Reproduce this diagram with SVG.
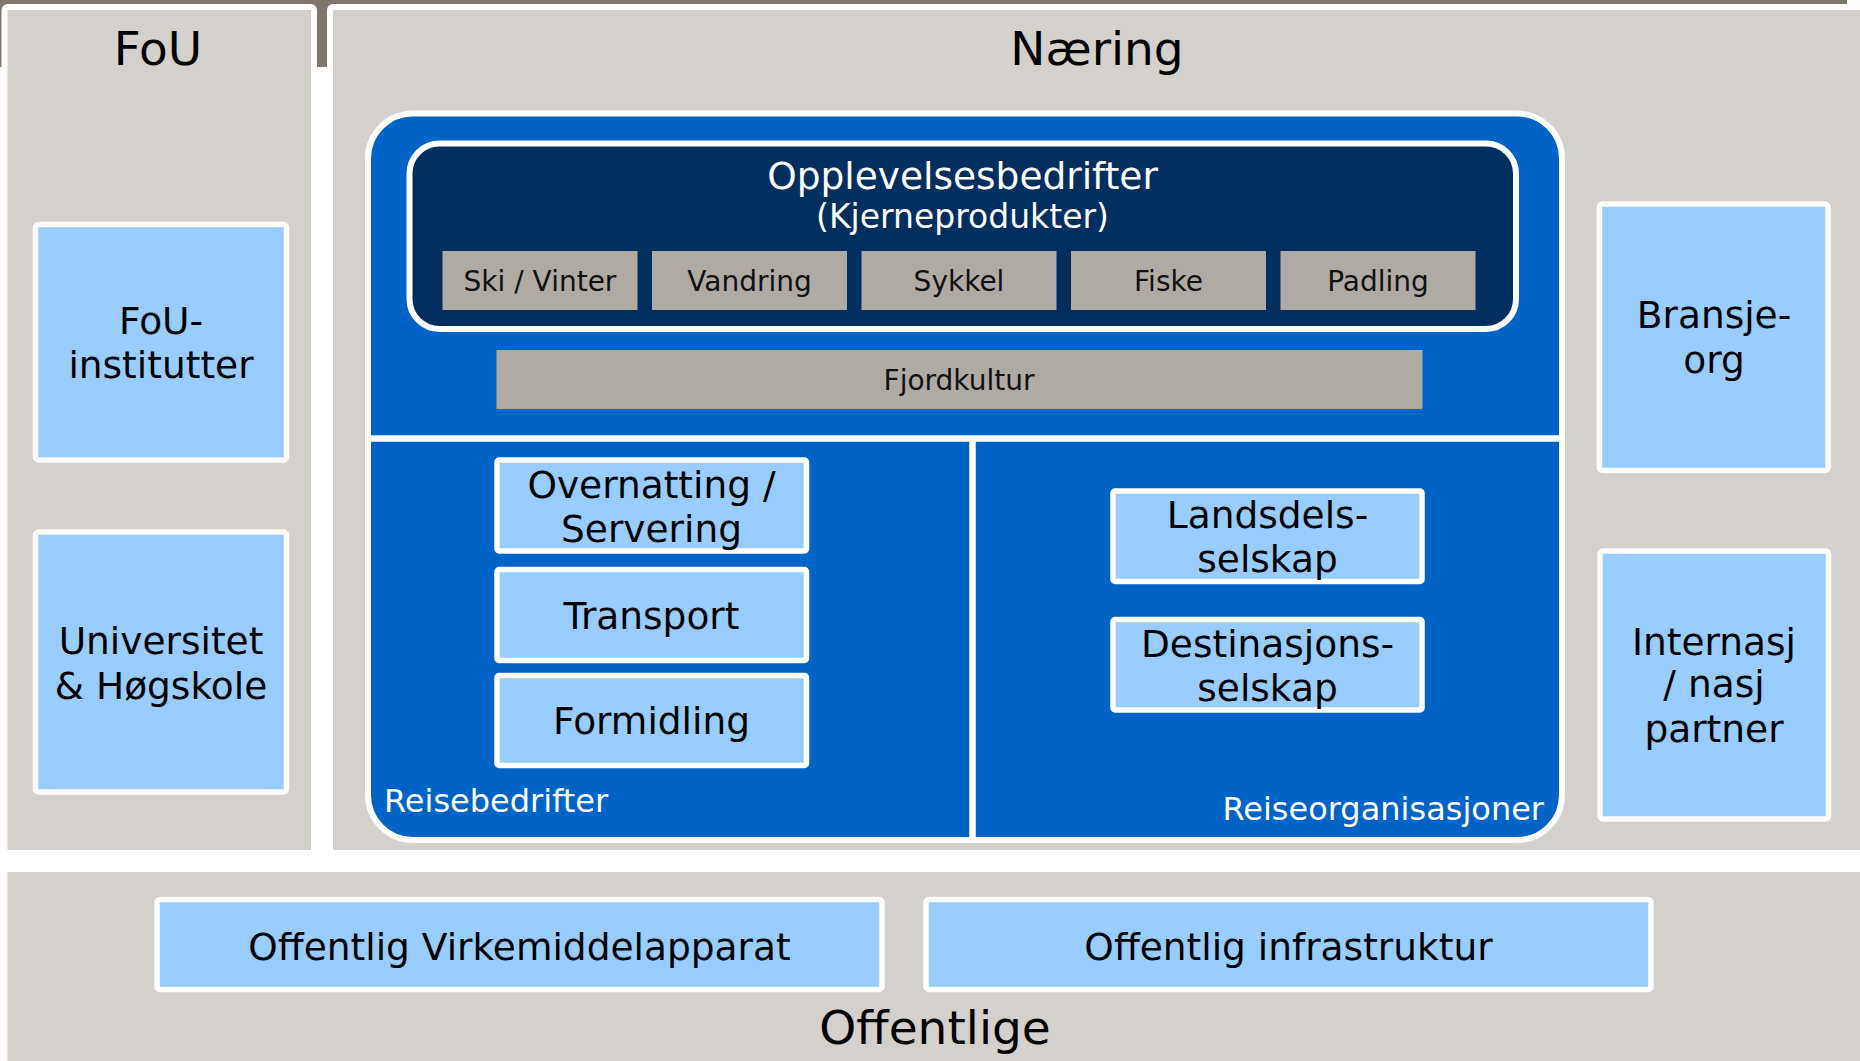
<svg xmlns="http://www.w3.org/2000/svg" width="1860" height="1061" viewBox="0 0 1860 1061">
<style>
text{font-family:"DejaVu Sans","Verdana","Liberation Sans",sans-serif;}
.panel{fill:#d4d1cc;stroke:#ffffff;stroke-width:6;}
.title{font-size:47px;fill:#000;text-anchor:middle;}
.lb{fill:#99ccff;stroke:#ffffff;stroke-width:5.5;}
.lbt{font-size:37.5px;fill:#000;text-anchor:middle;}
.tan{fill:#b0aaa4;}
.tant{font-size:28px;fill:#111;text-anchor:middle;}
.wt{fill:#ffffff;}
</style>
<rect x="0" y="0" width="1860" height="1061" fill="#ffffff"/>
<rect x="0" y="0" width="1847" height="67" fill="#7f766d"/>

<g id="panel-fou">
<rect class="panel" x="4.5" y="7" width="309.5" height="846" rx="3"/>
<text class="title" x="158" y="65">FoU</text>
</g>
<g id="panel-naering">
<rect class="panel" x="330" y="7" width="1540" height="846" rx="3"/>
<text class="title" x="1097" y="65">Næring</text>
</g>
<g id="panel-offentlige">
<rect class="panel" x="4.5" y="869" width="1865" height="200" rx="3"/>
<text class="title" x="935" y="1044">Offentlige</text>
</g>

<g id="reiseliv">
<rect x="368" y="113.5" width="1194" height="726.5" rx="45" fill="#0063c6" stroke="#ffffff" stroke-width="6"/>
<line x1="371" y1="438.5" x2="1559" y2="438.5" stroke="#ffffff" stroke-width="6.5"/>
<line x1="972.5" y1="438.5" x2="972.5" y2="837" stroke="#ffffff" stroke-width="6.5"/>
<text class="wt" x="384" y="812" font-size="32">Reisebedrifter</text>
<text class="wt" x="1544" y="820" font-size="32" text-anchor="end">Reiseorganisasjoner</text>
</g>

<g id="opplevelsesbedrifter">
<rect x="409.5" y="143.5" width="1106.5" height="185.5" rx="30" fill="#002e5e" stroke="#ffffff" stroke-width="6"/>
<text class="wt" x="962.5" y="189" font-size="37.5" text-anchor="middle">Opplevelsesbedrifter</text>
<text class="wt" x="962.5" y="228" font-size="33" text-anchor="middle">(Kjerneprodukter)</text>
</g>

<g id="ski">
<rect class="tan" x="442.5" y="251" width="195" height="59"/>
<text class="tant" x="540" y="291">Ski / Vinter</text>
</g>
<g id="vandring">
<rect class="tan" x="652" y="251" width="195" height="59"/>
<text class="tant" x="749.5" y="291">Vandring</text>
</g>
<g id="sykkel">
<rect class="tan" x="861.5" y="251" width="195" height="59"/>
<text class="tant" x="959" y="291">Sykkel</text>
</g>
<g id="fiske">
<rect class="tan" x="1071" y="251" width="195" height="59"/>
<text class="tant" x="1168.5" y="291">Fiske</text>
</g>
<g id="padling">
<rect class="tan" x="1280.5" y="251" width="195" height="59"/>
<text class="tant" x="1378" y="291">Padling</text>
</g>
<g id="fjordkultur">
<rect class="tan" x="496.5" y="350" width="926" height="59"/>
<text class="tant" x="959" y="390">Fjordkultur</text>
</g>

<g id="overnatting">
<rect class="lb" x="497" y="460" width="309.5" height="91" rx="2"/>
<text class="lbt" x="651.5" y="498">Overnatting /</text>
<text class="lbt" x="651.5" y="542">Servering</text>
</g>
<g id="transport">
<rect class="lb" x="497" y="569.5" width="309.5" height="91" rx="2"/>
<text class="lbt" x="651.5" y="629">Transport</text>
</g>
<g id="formidling">
<rect class="lb" x="497" y="675.5" width="309.5" height="90" rx="2"/>
<text class="lbt" x="651.5" y="734">Formidling</text>
</g>
<g id="landsdelsselskap">
<rect class="lb" x="1113" y="491" width="309" height="90.5" rx="2"/>
<text class="lbt" x="1267.5" y="528">Landsdels-</text>
<text class="lbt" x="1267.5" y="572">selskap</text>
</g>
<g id="destinasjonsselskap">
<rect class="lb" x="1113" y="619.5" width="309" height="90.5" rx="2"/>
<text class="lbt" x="1267.5" y="657">Destinasjons-</text>
<text class="lbt" x="1267.5" y="701">selskap</text>
</g>

<g id="fou-institutter">
<rect class="lb" x="35.5" y="224.5" width="251" height="235.5" rx="3"/>
<text class="lbt" x="161" y="334">FoU-</text>
<text class="lbt" x="161" y="378">institutter</text>
</g>
<g id="universitet">
<rect class="lb" x="35.5" y="532" width="251" height="260" rx="3"/>
<text class="lbt" x="161" y="654">Universitet</text>
<text class="lbt" x="161" y="699">&amp; Høgskole</text>
</g>
<g id="bransje-org">
<rect class="lb" x="1599.5" y="204" width="228.5" height="266.5" rx="3"/>
<text class="lbt" x="1714" y="328">Bransje-</text>
<text class="lbt" x="1714" y="373">org</text>
</g>
<g id="internasjonal-partner">
<rect class="lb" x="1600" y="551" width="228.5" height="268" rx="3"/>
<text class="lbt" x="1714" y="655">Internasj</text>
<text class="lbt" x="1714" y="697">/ nasj</text>
<text class="lbt" x="1714" y="742">partner</text>
</g>
<g id="virkemiddelapparat">
<rect class="lb" x="157" y="899.5" width="725" height="90" rx="3"/>
<text class="lbt" x="519.5" y="960">Offentlig Virkemiddelapparat</text>
</g>
<g id="infrastruktur">
<rect class="lb" x="926" y="899.5" width="725" height="90" rx="3"/>
<text class="lbt" x="1288.5" y="960">Offentlig infrastruktur</text>
</g>
<g id="connectors"/>
</svg>
